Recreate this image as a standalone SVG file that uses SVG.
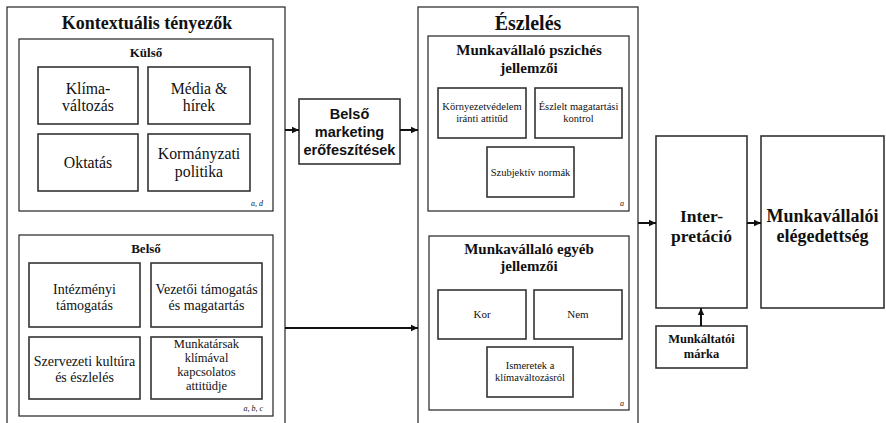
<svg xmlns="http://www.w3.org/2000/svg" width="886" height="423" viewBox="0 0 886 423">
<style>
.frame{fill:#fff;stroke:#222;stroke-width:1.2}
.box{fill:#fff;stroke:#333;stroke-width:1.6}
.t{font-family:'Liberation Serif','Times New Roman','DejaVu Serif',serif;fill:#111;text-anchor:middle}
.b{font-weight:bold}
.s{font-family:'Liberation Sans',Arial,sans-serif;font-weight:bold;fill:#111;text-anchor:middle}
.it{font-family:'Liberation Serif','DejaVu Serif',serif;font-style:italic;fill:#111;text-anchor:end;font-size:8px}
.con{stroke:#111;stroke-width:2;fill:none}
</style>
<defs>
<marker id="ah" markerUnits="userSpaceOnUse" markerWidth="8" markerHeight="8" refX="7" refY="4" orient="auto">
<path d="M0,0.8 L7,4 L0,7.2 Z" fill="#111"/>
</marker>
</defs>
<rect width="886" height="423" fill="#fff"/>

<g id="kontextualis">
<rect class="frame" x="7" y="7" width="278" height="430"/>
<text class="t b" x="147" y="29" font-size="18">Kontextuális tényezők</text>
</g>
<g id="kulso">
<rect class="frame" x="19" y="39" width="254" height="172"/>
<text class="t b" x="146" y="57" font-size="13">Külső</text>
<text class="it" x="263" y="206">a, d</text>
</g>
<g id="klima">
<rect class="box" x="38" y="67" width="100" height="57"/>
<text class="t" x="88" y="93.5" font-size="15.8">Klíma-</text>
<text class="t" x="88" y="111" font-size="15.8">változás</text>
</g>
<g id="media">
<rect class="box" x="148" y="67" width="102" height="57"/>
<text class="t" x="199" y="93.5" font-size="15.8">Média &amp;</text>
<text class="t" x="199" y="111" font-size="15.8">hírek</text>
</g>
<g id="oktatas">
<rect class="box" x="38" y="134" width="100" height="57"/>
<text class="t" x="88" y="168" font-size="15.8">Oktatás</text>
</g>
<g id="kormanyzati">
<rect class="box" x="148" y="134" width="102" height="57"/>
<text class="t" x="199" y="159" font-size="15.8">Kormányzati</text>
<text class="t" x="199" y="176.5" font-size="15.8">politika</text>
</g>

<g id="belso">
<rect class="frame" x="19" y="235" width="254" height="181"/>
<text class="t b" x="146" y="253" font-size="13">Belső</text>
<text class="it" x="263" y="411">a, b, c</text>
</g>
<g id="intezmenyi">
<rect class="box" x="29" y="263" width="111" height="64"/>
<text class="t" x="84.5" y="294" font-size="14">Intézményi</text>
<text class="t" x="84.5" y="310" font-size="14">támogatás</text>
</g>
<g id="vezetoi">
<rect class="box" x="151" y="263" width="111" height="64"/>
<text class="t" x="206.5" y="294" font-size="14">Vezetői támogatás</text>
<text class="t" x="206.5" y="310" font-size="14">és magatartás</text>
</g>
<g id="szervezeti">
<rect class="box" x="29" y="337" width="111" height="62"/>
<text class="t" x="84.5" y="366" font-size="14">Szervezeti kultúra</text>
<text class="t" x="84.5" y="382" font-size="14">és észlelés</text>
</g>
<g id="munkatarsak">
<rect class="box" x="151" y="337" width="111" height="62"/>
<text class="t" x="206.5" y="348" font-size="12.5">Munkatársak</text>
<text class="t" x="206.5" y="362" font-size="12.5">klímával</text>
<text class="t" x="206.5" y="376" font-size="12.5">kapcsolatos</text>
<text class="t" x="206.5" y="390" font-size="12.5">attitüdje</text>
</g>

<g id="belso-marketing">
<rect class="box" x="299" y="99" width="101" height="65"/>
<text class="s" x="349.5" y="119" font-size="14.5">Belső</text>
<text class="s" x="349.5" y="137" font-size="14.5">marketing</text>
<text class="s" x="349.5" y="155" font-size="14.5">erőfeszítések</text>
</g>

<g id="eszleles">
<rect class="frame" x="418" y="7" width="220" height="430"/>
<text class="t b" x="528" y="30" font-size="20">Észlelés</text>
</g>
<g id="pszichés">
<rect class="frame" x="428" y="36" width="201" height="175"/>
<text class="t b" x="529" y="55" font-size="15">Munkavállaló pszichés</text>
<text class="t b" x="529" y="73" font-size="15">jellemzői</text>
<text class="it" x="624" y="206">a</text>
</g>
<g id="kornyezetvedelem">
<rect class="box" x="438" y="88" width="88" height="50"/>
<text class="t" x="482" y="110" font-size="10.5">Környezetvédelem</text>
<text class="t" x="482" y="122" font-size="10.5">iránti attitűd</text>
</g>
<g id="eszlelt">
<rect class="box" x="535" y="88" width="87" height="50"/>
<text class="t" x="578.5" y="110" font-size="10.5">Észlelt magatartási</text>
<text class="t" x="578.5" y="122" font-size="10.5">kontrol</text>
</g>
<g id="szubjektiv">
<rect class="box" x="487" y="147" width="87" height="50"/>
<text class="t" x="530.5" y="176" font-size="10.5">Szubjektív normák</text>
</g>

<g id="egyeb">
<rect class="frame" x="429" y="236" width="200" height="174"/>
<text class="t b" x="529" y="254" font-size="15">Munkavállaló egyéb</text>
<text class="t b" x="529" y="271" font-size="15">jellemzői</text>
<text class="it" x="624" y="406">a</text>
</g>
<g id="kor">
<rect class="box" x="438" y="290" width="88" height="49"/>
<text class="t" x="482" y="318" font-size="11">Kor</text>
</g>
<g id="nem">
<rect class="box" x="534" y="290" width="88" height="49"/>
<text class="t" x="578" y="318" font-size="11">Nem</text>
</g>
<g id="ismeretek">
<rect class="box" x="487" y="347" width="86" height="50"/>
<text class="t" x="530" y="369" font-size="10.5">Ismeretek a</text>
<text class="t" x="530" y="381" font-size="10.5">klímaváltozásról</text>
</g>

<g id="interpretacio">
<rect class="box" x="656" y="136" width="91" height="172"/>
<text class="t b" x="701.5" y="222" font-size="17.5">Inter-</text>
<text class="t b" x="701.5" y="242" font-size="17.5">pretáció</text>
</g>
<g id="elegedettseg">
<rect class="box" x="761" y="136" width="123" height="172"/>
<text class="t b" x="822.5" y="222" font-size="18">Munkavállalói</text>
<text class="t b" x="822.5" y="242" font-size="18">elégedettség</text>
</g>
<g id="munkaltatoi-marka">
<rect class="box" x="656" y="326" width="91" height="42"/>
<text class="t b" x="701.5" y="343" font-size="12.5">Munkáltatói</text>
<text class="t b" x="701.5" y="358" font-size="12.5">márka</text>
</g>

<g id="connectors">
<line class="con" x1="285" y1="130" x2="299" y2="130" marker-end="url(#ah)"/>
<line class="con" x1="400" y1="130" x2="418" y2="130" marker-end="url(#ah)"/>
<line class="con" x1="285" y1="328" x2="418" y2="328" marker-end="url(#ah)"/>
<line class="con" x1="638" y1="223" x2="656" y2="223" marker-end="url(#ah)"/>
<line class="con" x1="747" y1="223" x2="761" y2="223" marker-end="url(#ah)"/>
<line class="con" x1="701" y1="326" x2="701" y2="308" marker-end="url(#ah)"/>
</g>
</svg>
